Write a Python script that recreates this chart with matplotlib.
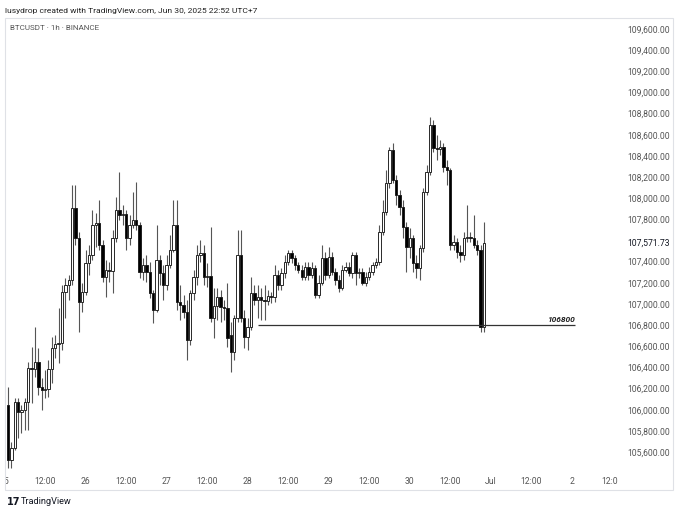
import matplotlib
matplotlib.use("Agg")
import matplotlib.pyplot as plt
import numpy as np
from matplotlib.transforms import blended_transform_factory
from matplotlib.patches import Rectangle

plt.rcParams['font.family'] = ['Roboto', 'DejaVu Sans']

# ---------------- data (BTCUSDT 1h, hours since Jun 25 00:00) ----------------
opens = [106045,105524,105637,106073,105978,105997,106073,106394,106385,106451,
         106215,106186,106196,106385,106583,106621,106631,107113,107179,107226,
         107907,107623,107018,107113,107387,107463,107747,107766,107558,107255,
         107321,107311,107623,107888,107841,107851,107623,107747,107794,107747,
         107302,107368,107302,107104,106943,107415,107292,107179,107368,107510,
         107747,107018,106990,106924,106659,107104,107255,107463,107482,107255,
         107264,106867,106981,107066,106971,106962,106707,106546,106867,107463,
         106867,106688,106782,107104,107037,107066,107037,107028,107075,107066,
         107273,107179,107292,107396,107482,107434,107368,107321,107255,107349,
         107273,107340,107085,107198,107434,107273,107444,107302,107226,107150,
         107321,107349,107292,107463,107292,107302,107198,107255,107302,107368,
         107396,107680,107869,108144,108456,108172,108030,107917,107728,107539,
         107624,107387,107340,107529,108059,108248,108692,108475,108465,108484,
         108295,108267,107558,107586,107491,107463,107624,107633,107624,107558,
         107510,106782]
closes = [105524,105637,106073,105978,105997,106073,106394,106385,106451,106215,
          106186,106196,106385,106583,106621,106631,107113,107179,107226,107907,
          107623,107018,107113,107387,107463,107747,107766,107558,107255,107321,
          107311,107623,107888,107841,107851,107623,107747,107794,107747,107302,
          107368,107302,107104,106943,107415,107292,107179,107368,107510,107747,
          107018,106990,106924,106659,107104,107255,107463,107482,107255,107264,
          106867,106981,107066,106971,106962,106678,106546,106867,107463,106867,
          106688,106782,107104,107037,107066,107037,107028,107075,107066,107273,
          107179,107292,107396,107482,107434,107368,107321,107255,107349,107273,
          107340,107085,107198,107434,107273,107444,107302,107226,107150,107321,
          107349,107292,107463,107292,107302,107198,107255,107302,107368,107396,
          107680,107869,108144,108456,108172,108030,107917,107728,107539,107624,
          107387,107340,107529,108059,108248,108692,108475,108465,108484,108295,
          108267,107558,107586,107491,107463,107624,107633,107624,107558,107510,
          106782,107571.73]
highs = [106215,105694,106110,106110,106045,106110,106451,106593,106782,106583,
         106299,106375,106470,106688,106707,106961,107179,107245,107273,108125,
         108125,107680,107198,107510,107558,107888,107860,107983,107605,107415,
         107396,107699,108011,108248,107936,107888,107841,108059,108153,107775,
         107434,107463,107396,107132,107747,107463,107368,107463,107652,107983,
         107983,107179,107085,107037,107132,107321,107558,107605,107558,107387,
         107728,107150,107150,107132,107037,107198,106829,106896,107699,107699,
         106943,106867,107255,107179,107179,107150,107179,107132,107113,107368,
         107321,107340,107463,107510,107510,107463,107396,107368,107396,107396,
         107396,107368,107273,107558,107491,107539,107491,107340,107273,107368,
         107396,107396,107491,107491,107340,107340,107302,107349,107396,107434,
         107747,107983,108267,108484,108522,108219,108078,107983,107775,107718,
         107652,107463,107558,108097,108314,108768,108739,108597,108550,108522,
         108361,108285,107652,107624,107558,107680,107936,107680,107841,107605,
         107558,107775]
lows = [105448,105448,105619,105732,105780,105808,105808,106064,106309,106139,
        105997,106110,106120,106253,106489,106442,106565,106867,107037,107179,
        107558,106735,106924,107085,107273,107415,107539,107510,107207,107066,
        107207,107104,107586,107794,107747,107510,107558,107718,107699,107245,
        107226,107207,107056,106820,106924,107179,107037,107132,107340,107491,
        106943,106848,106867,106470,106612,107037,107179,107396,107179,107160,
        106829,106678,106848,106829,106848,106593,106356,106470,106829,106829,
        106583,106565,106754,106990,106867,106848,106848,106990,107009,107018,
        107132,107132,107245,107368,107387,107321,107292,107226,107226,107226,
        107245,107056,107056,107179,107226,107245,107273,107179,107113,107132,
        107302,107264,107245,107179,107245,107179,107169,107226,107273,107340,
        107368,107652,107841,108097,108144,107936,107841,107624,107302,107434,
        107302,107245,107226,107491,108030,108219,108437,108361,108408,108248,
        108125,107510,107510,107434,107396,107415,107586,107586,107529,107463,
        106735,106735]

level = 106800
level_label = "106800"
last_price = 107571.73

price_ticks = [105600, 105800, 106000, 106200, 106400, 106600, 106800, 107000,
               107200, 107400, 107800, 108000, 108200, 108400, 108600, 108800,
               109000, 109200, 109400, 109600]
time_tick_hours = [0, 12, 24, 36, 48, 60, 72, 84, 96, 108, 120, 132, 144, 156, 168, 180]
time_tick_labels = ["25", "12:00", "26", "12:00", "27", "12:00", "28", "12:00",
                    "29", "12:00", "30", "12:00", "Jul", "12:00", "2", "12:00"]

title_text = "lusydrop created with TradingView.com, Jun 30, 2025 22:52 UTC+7"
symbol_text = "BTCUSDT \u00b7 1h \u00b7 BINANCE"

# ---------------- layout ----------------
W, H = 680, 514
fig = plt.figure(figsize=(W / 100, H / 100), dpi=100)
fig.patch.set_facecolor("white")

def fx(px):
    return px / W

def fy(py):
    return 1 - py / H

ax_left, ax_right, ax_top, ax_bot = 5, 618, 20, 490
ax = fig.add_axes([fx(ax_left), fy(ax_bot), (ax_right - ax_left) / W, (ax_bot - ax_top) / H])
ax.set_facecolor("white")

# price scale: 109600 at y=29px, 105600 at y=452px
ppx = (452 - 29) / 4000.0
ax.set_ylim(105600 - (ax_bot - 452) / ppx, 109600 + (29 - ax_top) / ppx)
# time scale: hour 0 at x=4.6px, 3.376 px per hour
hx0, hpx = 4.6, 3.376
ax.set_xlim((ax_left - hx0) / hpx, (ax_right - hx0) / hpx)

hours = np.arange(1, len(closes) + 1)
o = np.array(opens, dtype=float)
c = np.array(closes, dtype=float)
hi = np.array(highs, dtype=float)
lo = np.array(lows, dtype=float)

ax.vlines(hours, lo, hi, color="#555555", linewidth=0.8, zorder=1)
bottoms = np.minimum(o, c)
heights = np.maximum(np.abs(c - o), 9)
faces = ["white" if cc >= oo else "black" for oo, cc in zip(o, c)]
ax.bar(hours, heights, bottom=bottoms, width=0.7, color=faces,
       edgecolor="#1a1a1a", linewidth=0.65, zorder=2)

# horizontal level
ax.hlines(level, 75, 169, color="#333333", linewidth=0.9, zorder=3)
ax.text(169, level + 22, level_label, ha="right", va="bottom", fontsize=6,
        style="italic", fontweight="bold", color="#222222", zorder=4)

# price axis
ax.yaxis.tick_right()
ax.set_yticks(price_ticks)
ax.set_yticklabels([f"{p:,.2f}" for p in price_ticks])
ax.tick_params(axis="y", length=0, pad=6.5, labelsize=6.2, labelcolor="#555555")
ax.set_xticks([])
for s in ax.spines.values():
    s.set_visible(False)

trans_y = blended_transform_factory(ax.transAxes, ax.transData)
ax.text(1 + 9 / (ax_right - ax_left), last_price, f"{last_price:,.2f}", transform=trans_y,
        ha="left", va="center", fontsize=6.2, color="#131722", clip_on=False,
        bbox=dict(facecolor="white", edgecolor="none", pad=1.0))

# time axis labels (clipped at panel edges)
trans_x = blended_transform_factory(ax.transData, ax.transAxes)
for h, lab in zip(time_tick_hours, time_tick_labels):
    ax.text(h, (ax_bot - 481) / (ax_bot - ax_top), lab, transform=trans_x,
            ha="center", va="center", fontsize=6.2, color="#555555", clip_on=True)

# frame
fig.patches.append(Rectangle((fx(5), fy(490)), (673 - 5) / W, (490 - 18) / H,
                             transform=fig.transFigure, fill=False,
                             edgecolor="#dfe1e6", linewidth=0.8))

fig.text(fx(5), fy(11), title_text, fontsize=6.1, color="#222222", va="center", ha="left")
fig.text(fx(10), fy(28), symbol_text, fontsize=5.8, color="#555555", va="center", ha="left")
fig.text(fx(7), fy(502), "17", fontsize=7, fontweight="heavy", color="#131722",
         va="center", ha="left", family="DejaVu Sans")
fig.text(fx(21), fy(502), "TradingView", fontsize=6.6, color="#131722", va="center", ha="left")

fig.savefig("out.png", dpi=100, facecolor="white")
